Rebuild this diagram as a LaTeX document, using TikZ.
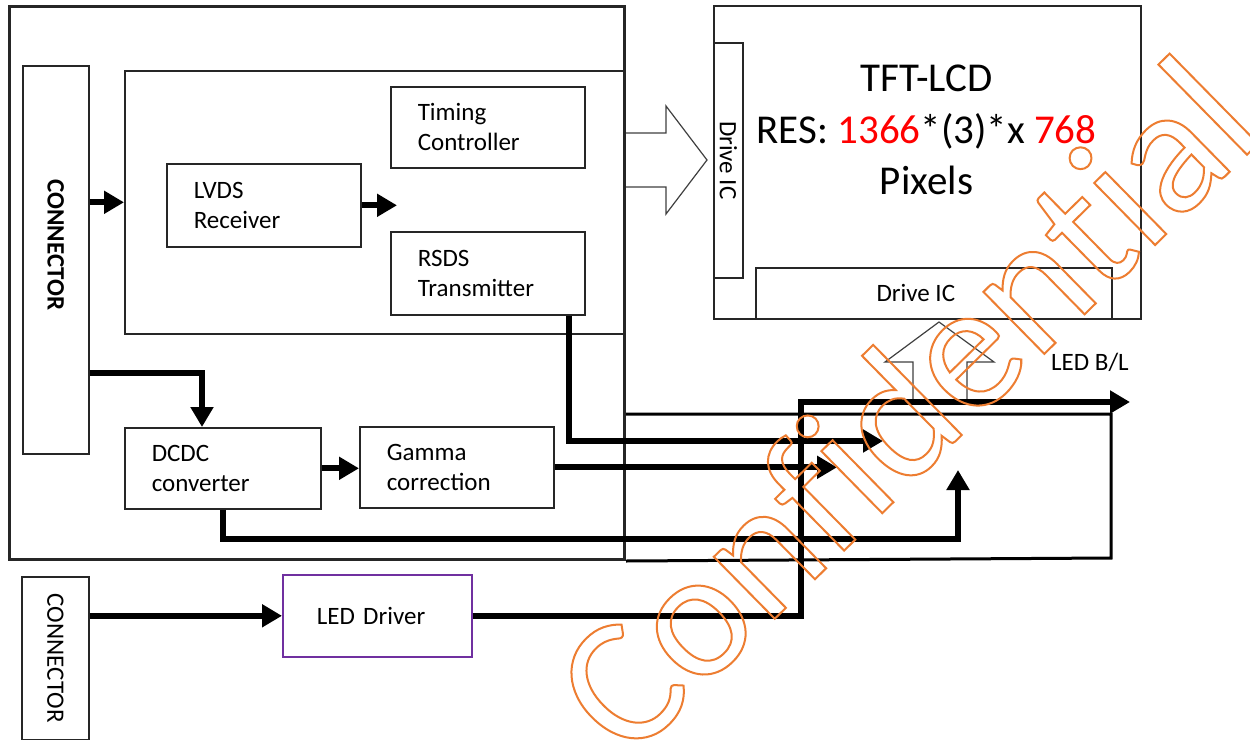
\documentclass[tikz,border=0pt]{standalone}
\usepackage{fontspec}
\setmainfont{Carlito}
\newfontfamily\wmfont[Ligatures=NoCommon]{Carlito}
\usepackage{graphicx}
\usepackage{xcolor}
\usetikzlibrary{arrows.meta}
\definecolor{wmorange}{RGB}{237,125,49}
\definecolor{drvpurple}{RGB}{112,48,160}
\definecolor{resred}{RGB}{255,0,0}
\tikzset{x=0.5pt, y=-0.5pt,
 txt/.style={font=\fontsize{12.5}{15}\selectfont, inner sep=0pt},
 pbox/.style={txt, draw=black!85, line width=0.8pt, anchor=north west},
 blk/.style={pbox, inner xsep=13.5pt, text width=#1, align=left},
 thk/.style={line width=3pt, -{Triangle[length=10pt,width=11pt]}},
 hollow/.style={draw=black!75, line width=0.6pt},
 wmk/.style={text=wmorange, inner sep=0pt, font=\wmfont\fontsize{91}{91}\selectfont},
 }

\begin{document}
\begin{tikzpicture}
        \path[fill=white, use as bounding box] (0,0) rectangle (1250,740);

        \node[pbox, line width=1.5pt, minimum width=307.5pt, minimum height=276.5pt] (outer) at (8,5) {};
        \node[pbox, minimum width=249.5pt, minimum height=131.5pt] (inner) at (124,70) {};
        \node[pbox, minimum width=33pt, minimum height=194pt] (conn1) at (22,65) {\rotatebox[origin=c]{-90}{\bfseries CONNECTOR\hspace*{15pt}}};
        \node[pbox, minimum width=33.5pt, minimum height=81.5pt] (conn2) at (21,576) {\rotatebox[origin=c]{-90}{CONNECTOR}};

        \foreach \nm/\x/\y/\h/\t in {timing/390/86/40.5/{Timing\\Controller},
                lvds/166/163/41.5/{LVDS\\Receiver},
                rsds/390/231/41.5/{RSDS\\Transmitter},
                gamma/359/426/40.5/{Gamma\\correction}} {
            \node[blk=70pt, minimum height=\h pt] (\nm) at (\x,\y) {\t};
        }
        \node[blk=71pt, minimum height=40.5pt] (dcdc) at (124,427) {DCDC\\converter};
        \node[blk=60.5pt, inner xsep=17pt, draw=drvpurple, minimum height=41pt] (leddrv) at (282,574) {LED Driver};

        \node[pbox, minimum width=213.5pt, minimum height=156.5pt] (lcd) at (713,5) {};
        \node[pbox, minimum width=14.5pt, minimum height=117.5pt] (dicL) at (713,42) {\rotatebox[origin=c]{-90}{Drive IC}};
        \node[pbox, minimum width=178pt, minimum height=25.5pt] (dicB) at (755,267) {Drive IC\hspace*{18pt}};
        \node[align=center, inner sep=0pt, font=\fontsize{20.5}{25.7}\selectfont] (lcdtxt) at (926.5,130)
            {TFT-LCD\\RES: \textcolor{resred}{1366}*(3)*x \textcolor{resred}{768}\\Pixels};
        \node[txt] (bltxt) at (1090,362) {LED B/L};

        \draw[hollow] (outer.east |- 0,133) -- (666,133) -- (666,106) -- (707,160) -- (666,214) -- (666,187) -- (outer.east |- 0,187);
        \draw[hollow] (913,399) -- (913,362) -- (885,362) -- (939,322) -- (994,362) -- (967,362) -- (967,399);

        \coordinate (lvdsT) at (397,206);
        \coordinate (dcIn) at (202,373);
        \coordinate (rsT) at (883,441);
        \coordinate (gmT) at (837,467);
        \coordinate (dcT) at (958,470);
        \coordinate (blT) at (1130,402);

        \draw[line width=1.5pt] (outer.east |- 0,414) -| (1111,558) -- (outer.south east);

        \draw[thk] (conn1.east |- inner.west) -- (inner.west);
        \draw[thk] (lvds.east) -- (lvdsT |- lvds.east);
        \draw[thk] (conn1.east |- dcIn) -- (dcIn) -- (dcIn |- dcdc.north);
        \draw[thk] (dcdc.east) -- (gamma.west |- dcdc.east);
        \draw[thk] (rsds.south -| 569,0) |- (rsT);
        \draw[thk] (gamma.east) -- (gmT |- gamma.east);
        \draw[thk] (dcdc.south) -- ++(0,29) -| (dcT);
        \draw[thk] (conn2.east |- leddrv.west) -- (leddrv.west);
        \draw[thk] (leddrv.east) -| (801,402) -- (blT);

        \node[wmk, rotate=44.5, anchor=base west] (conf) at (628,763) {\special{pdf:literal direct 1 Tr 1 w}Confidential};
\end{tikzpicture}
\end{document}
